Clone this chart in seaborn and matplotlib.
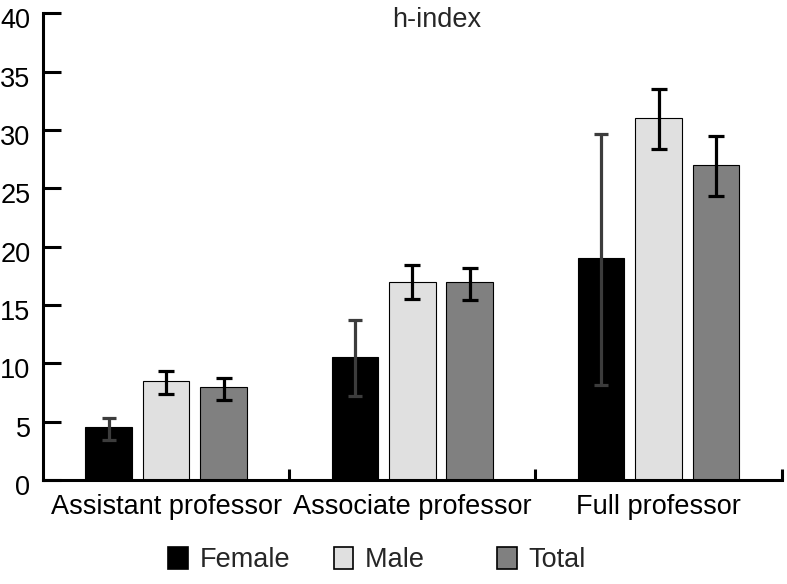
import matplotlib
matplotlib.use("Agg")
import matplotlib.pyplot as plt
import matplotlib.transforms as mtransforms
from matplotlib.patches import Patch
import pandas as pd
import seaborn as sns

ranks = ['Assistant professor', 'Associate professor', 'Full professor']
groups = ['Female', 'Male', 'Total']
colors = ['#000000', '#e0e0e0', '#808080']
err_colors = ['#3c3c3c', '#000000', '#000000']

# mean h-index per rank
h_female = [4.5, 10.5, 19.0]
h_male = [8.45, 17.0, 31.0]
h_total = [8.0, 17.0, 27.0]

# error bar ends (lower / upper)
low_female = [3.45, 7.2, 8.1]
up_female = [5.35, 13.7, 29.65]
low_male = [7.35, 15.5, 28.35]
up_male = [9.35, 18.4, 33.55]
low_total = [6.85, 15.4, 24.3]
up_total = [8.7, 18.2, 29.5]

y_ticks = [0, 5, 10, 15, 20, 25, 30, 35, 40]

means = {'Female': h_female, 'Male': h_male, 'Total': h_total}
lows = {'Female': low_female, 'Male': low_male, 'Total': low_total}
ups = {'Female': up_female, 'Male': up_male, 'Total': up_total}

df = pd.DataFrame({
    'rank': ranks * 3,
    'group': [g for g in groups for _ in ranks],
    'h': h_female + h_male + h_total,
})

sns.set_theme(style="white")
plt.rcParams['font.family'] = ['Liberation Sans', 'DejaVu Sans']

fig = plt.figure(figsize=(7.87, 5.84), dpi=100)
ax = fig.add_axes([0.0546, 0.1781, 0.9386, 0.7992])

sns.barplot(data=df, x='rank', y='h', hue='group', order=ranks, hue_order=groups,
            palette=colors, edgecolor='black', linewidth=0.8, width=0.70, gap=0.19,
            errorbar=None, legend=False, ax=ax)

bar_sets = list(ax.containers)
cap_sizes = [4.8, 5.6, 5.6]
for i, g in enumerate(groups):
    xs = [p.get_x() + p.get_width() / 2 for p in bar_sets[i]]
    m = means[g]
    yerr = [[m[k] - lows[g][k] for k in range(3)], [ups[g][k] - m[k] for k in range(3)]]
    ax.errorbar(xs, m, yerr=yerr, fmt='none', ecolor=err_colors[i], elinewidth=2.3,
                capsize=cap_sizes[i], capthick=2.3, zorder=3)

sns.despine(ax=ax)
for side in ['left', 'bottom']:
    ax.spines[side].set_linewidth(2.2)
    ax.spines[side].set_color('black')

ax.set_ylim(0, 40)
ax.set_xlim(-0.5, 2.5)
ax.set_yticks(y_ticks)
ax.set_xticks([0.5, 1.5, 2.5], minor=True)
ax.tick_params(axis='y', direction='in', length=13, width=2.2, labelsize=19.5, pad=9,
               colors='black', left=True)
ax.tick_params(axis='x', which='major', length=0, labelsize=19.5, pad=10, colors='black')
ax.tick_params(axis='x', which='minor', direction='in', length=8, width=2.2,
               bottom=True, colors='black')
ax.set_xlabel('')
ax.set_ylabel('')

# y labels sit a bit below their ticks in the original
offset = mtransforms.ScaledTranslation(0, -5 / 100, fig.dpi_scale_trans)
for lab in ax.get_yticklabels():
    lab.set_transform(lab.get_transform() + offset)

ax.text(0.533, 0.971, 'h-index', ha='center', va='baseline', fontsize=19.5,
        transform=ax.transAxes)

handles = [Patch(facecolor=c, edgecolor='black', linewidth=1.2) for c in colors]
labels = ['Female', 'Male    ', 'Total']
fig.legend(handles, labels, loc='center', bbox_to_anchor=(0.479, 0.041), ncol=3,
           frameon=False, fontsize=19.5, handlelength=0.72, handleheight=0.88,
           handletextpad=0.43, columnspacing=1.6)

fig.savefig('out.png', dpi=100)
